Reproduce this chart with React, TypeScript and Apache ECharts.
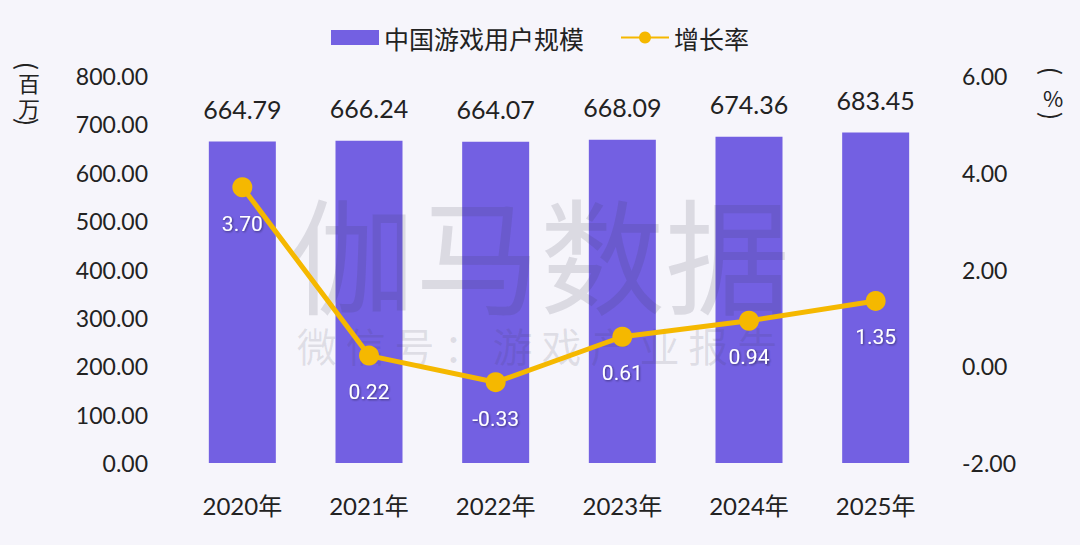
import React, { useEffect, useRef } from "react";
import * as echarts from "echarts";

const categories = ["2020年", "2021年", "2022年", "2023年", "2024年", "2025年"];
const userScale = [664.79, 666.24, 664.07, 668.09, 674.36, 683.45];
const growthRate = [3.7, 0.22, -0.33, 0.61, 0.94, 1.35];
const seriesNames = ["中国游戏用户规模", "增长率"];

const BAR = "#7360e2";
const LINE = "#f5b800";
const BG = "#f6f5fb";
const FONT = "Lato, 'Noto Sans CJK SC', sans-serif";
const CJK = "'Noto Sans CJK SC', sans-serif";

function vText(text: string, x: number, y: number, rotation = 0, fontSize = 22) {
  return {
    type: "text",
    x,
    y,
    rotation,
    z: 10,
    style: {
      text,
      fontSize,
      fill: "#222",
      fontFamily: CJK,
      align: "center",
      verticalAlign: "middle",
    },
  };
}

export default function App() {
  const ref = useRef<HTMLDivElement>(null);
  useEffect(() => {
    if (!ref.current) return;
    const chart = echarts.init(ref.current, undefined, { renderer: "svg" });
    chart.setOption({
      animation: false,
      backgroundColor: BG,
      textStyle: { fontFamily: FONT },
      legend: {
        top: 20,
        left: "center",
        itemGap: 36,
        itemWidth: 48,
        itemHeight: 15,
        textStyle: { fontSize: 25, color: "#222", fontFamily: CJK },
        data: [
          { name: seriesNames[0], icon: "rect" },
          { name: seriesNames[1] },
        ],
      },
      grid: { left: 179, right: 141, top: 76, bottom: 82 },
      xAxis: {
        type: "category",
        data: categories,
        axisLine: { show: false },
        axisTick: { show: false },
        axisLabel: { fontSize: 24, color: "#222", margin: 30, fontFamily: FONT },
      },
      yAxis: [
        {
          type: "value",
          min: 0,
          max: 800,
          interval: 100,
          splitLine: { show: false },
          axisLine: { show: false },
          axisTick: { show: false },
          axisLabel: {
            fontSize: 23,
            color: "#222",
            margin: 31,
            formatter: (v: number) => v.toFixed(2),
          },
        },
        {
          type: "value",
          min: -2,
          max: 6,
          interval: 2,
          splitLine: { show: false },
          axisLine: { show: false },
          axisTick: { show: false },
          axisLabel: {
            fontSize: 23,
            color: "#222",
            margin: 23,
            formatter: (v: number) => v.toFixed(2),
          },
        },
      ],
      graphic: [
        vText("(", 29, 66, -Math.PI / 2, 25),
        vText("百", 29, 82),
        vText("万", 29, 107),
        vText(")", 29, 122, -Math.PI / 2, 25),
        vText("(", 1053, 71, -Math.PI / 2, 25),
        vText("%", 1053, 97),
        vText(")", 1053, 116, -Math.PI / 2, 25),
        {
          type: "text",
          x: 540,
          y: 250,
          z: 3,
          silent: true,
          style: {
            text: "伽马数据",
            fontSize: 125,
            fill: "rgba(60,60,75,0.14)",
            fontFamily: CJK,
            align: "center",
            verticalAlign: "middle",
          },
        },
        {
          type: "text",
          x: 537,
          y: 345,
          z: 3,
          silent: true,
          style: {
            text: "微 信 号 ： 游 戏 产 业 报 告",
            fontSize: 40,
            fill: "rgba(60,60,75,0.12)",
            fontFamily: CJK,
            align: "center",
            verticalAlign: "middle",
          },
        },
      ],
      series: [
        {
          name: seriesNames[0],
          type: "bar",
          data: userScale,
          barWidth: 67,
          z: 2,
          itemStyle: { color: BAR },
          label: {
            show: true,
            position: "top",
            distance: 20,
            fontSize: 25,
            color: "#222",
            fontFamily: FONT,
            formatter: (p: any) => Number(p.value).toFixed(2),
          },
        },
        {
          name: seriesNames[1],
          type: "line",
          yAxisIndex: 1,
          data: growthRate,
          z: 10,
          symbol: "circle",
          symbolSize: 20,
          lineStyle: { color: LINE, width: 5 },
          itemStyle: { color: LINE },
          label: {
            show: true,
            position: "bottom",
            distance: 16,
            fontSize: 21,
            color: "#fff",
            fontFamily: "Roboto, sans-serif",
            textShadowColor: "rgba(0,0,0,0.45)",
            textShadowBlur: 2,
            textShadowOffsetX: 1,
            textShadowOffsetY: 1,
            formatter: (p: any) => Number(p.value).toFixed(2),
          },
        },
      ],
    });
    return () => chart.dispose();
  }, []);
  return (
    <div
      ref={ref}
      style={{ position: "fixed", left: 0, top: 0, width: 1080, height: 545 }}
    />
  );
}
